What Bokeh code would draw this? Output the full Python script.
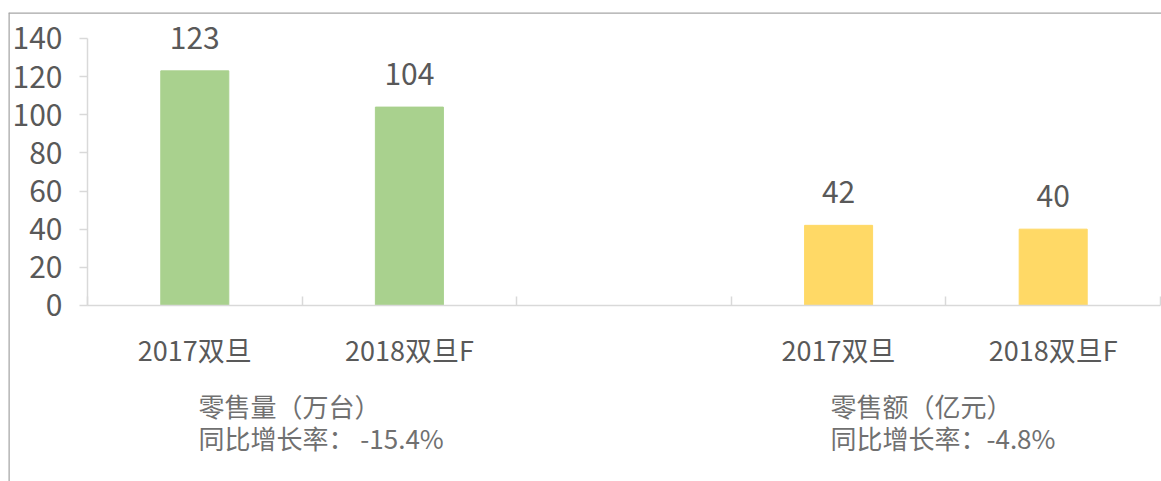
from bokeh.plotting import figure
from bokeh.models import Range1d, LinearAxis, FixedTicker, Span, ColumnDataSource
from bokeh.core.properties import value
from bokeh.embed import file_html
from bokeh.resources import INLINE

# ---- data ----
categories = ["2017双旦", "2018双旦F", "", "2017双旦", "2018双旦F"]
volume_labels = ["2017双旦", "2018双旦F"]
volume = [123, 104]          # 零售量（万台）
revenue_labels = ["2017双旦", "2018双旦F"]
revenue = [42, 40]           # 零售额（亿元）
y_ticks = [0, 20, 40, 60, 80, 100, 120, 140]
note_titles = ["零售量（万台）", "零售额（亿元）"]
note_rates = ["同比增长率： -15.4%", "同比增长率：-4.8%"]

FONT = "Noto Sans CJK SC"
GREEN = "#A9D18E"
YELLOW = "#FFD966"
AXIS = "#D9D9D9"
TXT = "#595959"

n_cat = len(categories)
cat_pos = [i + 0.5 for i in range(n_cat)]
vol_x = [cat_pos[categories.index(c)] for c in volume_labels]
rev_x = [cat_pos[3 + revenue_labels.index(c)] for c in revenue_labels]

p = figure(width=1161, height=481, output_backend="svg", toolbar_location=None,
           x_range=Range1d(-0.3681, 5.0047), y_range=Range1d(-92.3, 153.6),
           x_axis_type=None, y_axis_type=None,
           min_border_left=8, min_border_top=12, min_border_right=0, min_border_bottom=0)
p.xgrid.visible = False
p.ygrid.visible = False
p.outline_line_color = None
p.background_fill_color = "white"
p.border_fill_color = "white"

# outer border (left / top)
p.add_layout(Span(location=p.x_range.start, dimension="height", line_color="#A6A6A6", line_width=2.5))
p.add_layout(Span(location=p.y_range.end, dimension="width", line_color="#A6A6A6", line_width=2.5))

# y axis
yaxis = LinearAxis(fixed_location=0, bounds=(0, 140), ticker=FixedTicker(ticks=y_ticks),
                   major_tick_out=8, major_tick_in=0, minor_tick_out=0, minor_tick_in=0,
                   axis_line_color=AXIS, major_tick_line_color=AXIS, axis_line_width=1.5,
                   major_tick_line_width=1.5,
                   major_label_text_font=FONT, major_label_text_font_size="30px",
                   major_label_text_color=TXT, major_label_standoff=17)
p.add_layout(yaxis, "left")

# x axis line with boundary ticks
bounds_ticks = list(range(n_cat + 1))
xaxis = LinearAxis(fixed_location=0, bounds=(0, n_cat), ticker=FixedTicker(ticks=bounds_ticks),
                   major_tick_in=9, major_tick_out=0, minor_tick_in=0, minor_tick_out=0,
                   axis_line_color=AXIS, major_tick_line_color=AXIS, axis_line_width=1.5,
                   major_tick_line_width=1.5,
                   major_label_overrides={t: "" for t in bounds_ticks})
p.add_layout(xaxis, "below")

# category labels
label_ticks = [cat_pos[i] for i, c in enumerate(categories) if c]
cat_axis = LinearAxis(fixed_location=0, ticker=FixedTicker(ticks=label_ticks),
                      major_label_overrides={cat_pos[i]: c for i, c in enumerate(categories) if c},
                      axis_line_color=None, major_tick_line_color=None, minor_tick_line_color=None,
                      major_tick_out=0, major_tick_in=0,
                      major_label_text_font=FONT, major_label_text_font_size="27px",
                      major_label_text_color=TXT, major_label_standoff=25)
p.add_layout(cat_axis, "below")

# bars
vol_src = ColumnDataSource(dict(x=vol_x, top=volume, label=[str(v) for v in volume]))
rev_src = ColumnDataSource(dict(x=rev_x, top=revenue, label=[str(v) for v in revenue]))
p.vbar(x="x", top="top", bottom=0, width=0.317, color=GREEN, source=vol_src)
p.vbar(x="x", top="top", bottom=0, width=0.317, color=YELLOW, source=rev_src)

for src in (vol_src, rev_src):
    p.text(x="x", y="top", text="label", source=src, text_align="center", text_baseline="middle",
           y_offset=-33, text_font=value(FONT), text_font_size="30px", text_color=TXT)

# notes under each group
note_x = [0.517, 3.462]
p.text(x=note_x, y=[-52.4, -52.4], text=note_titles, text_align="left", text_baseline="middle",
       text_font=value(FONT), text_font_size="26px", text_color="#707070")
p.text(x=note_x, y=[-69.2, -69.2], text=note_rates, text_align="left", text_baseline="middle",
       text_font=value(FONT), text_font_size="26px", text_color="#707070")

open("out.html", "w").write(file_html(p, INLINE))
